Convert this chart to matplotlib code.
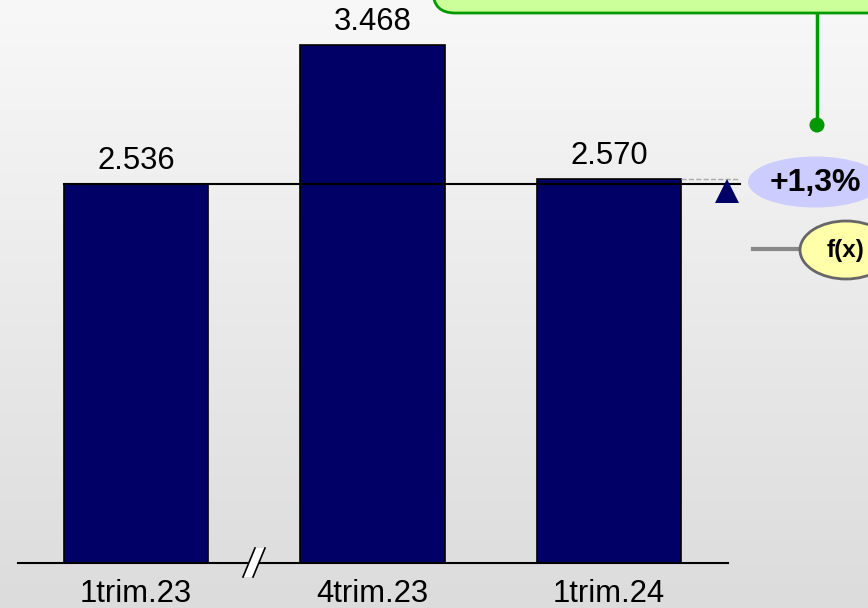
import numpy as np
import matplotlib
matplotlib.use('Agg')
import matplotlib.pyplot as plt
from matplotlib.patches import Ellipse, FancyBboxPatch, Polygon

plt.rcParams['font.family'] = ['Liberation Sans', 'DejaVu Sans']

# data
periods = ['1trim.23', '4trim.23', '1trim.24']
values = [2536, 3468, 2570]
value_labels = ['2.536', '3.468', '2.570']
change_label = '+1,3%'

W, H = 868, 608
fig = plt.figure(figsize=(W / 100, H / 100), dpi=100)

# background gradient
bg = fig.add_axes([0, 0, 1, 1])
grad = np.linspace(248, 220, 256)[:, None] / 255.0
bg.imshow(np.dstack([grad, grad, grad]), aspect='auto', extent=[0, 1, 0, 1])
bg.set_axis_off()

# main data axes (bars)
ax = fig.add_axes([0, 0, 1, 1])
ax.patch.set_visible(False)
ax.set_xlim(-0.575, 3.095)
ax.set_ylim(-301, 3766)
ax.set_axis_off()
x = np.arange(len(values))
ax.bar(x, values, width=0.609, color='#000066', edgecolor='black', linewidth=1.2, zorder=2)
for xi, v, lab in zip(x, values, value_labels):
    ax.text(xi, v + 50, lab, ha='center', va='bottom', fontsize=22.3, color='black')
for xi, lab in zip(x, periods):
    ax.text(xi, -205, lab, ha='center', va='center', fontsize=22.3, color='black')

# reference lines
x_end = (740 - 136) / 236.5
ax.plot([-0.305, x_end], [values[0], values[0]], color='black', lw=1.5, zorder=3)
ax.plot([2.305, x_end - 0.01], [values[2], values[2]], color='#aaaaaa', lw=1, ls='--', zorder=3)
ax.plot([(727 - 136) / 236.5], [values[0] - 47], marker='^', markersize=17, color='#000066',
        linestyle='none', zorder=4, markeredgewidth=0)

# overlay in pixel coords for decorations
ov = fig.add_axes([0, 0, 1, 1])
ov.patch.set_visible(False)
ov.set_xlim(0, W)
ov.set_ylim(H, 0)
ov.set_axis_off()

# baseline with break mark
ov.plot([18, 728], [563, 563], color='black', lw=1.5, zorder=3)
ov.add_patch(Polygon([[243, 577], [255, 548], [265, 548], [253, 577]], closed=True,
                     facecolor='white', edgecolor='none', zorder=4))
ov.plot([243, 255], [577, 548], color='black', lw=1.2, zorder=5)
ov.plot([253, 265], [577, 548], color='black', lw=1.2, zorder=5)

# green callout
ov.add_patch(FancyBboxPatch((433, -80), 500, 93, boxstyle='round,pad=0,rounding_size=22',
                            facecolor='#ccff99', edgecolor='#009900', lw=2, zorder=3))
ov.plot([817, 817], [14, 125], color='#009900', lw=2.5, zorder=4)
ov.add_patch(Ellipse((817, 125), 15, 15, facecolor='#009900', edgecolor='none', zorder=5))

# change ellipse
ov.add_patch(Ellipse((815, 182), 134, 51, facecolor='#ccccff', edgecolor='none', zorder=3))
ov.text(815, 183, change_label, ha='center', va='center', fontsize=23, fontweight='bold', zorder=4)

# f(x) ellipse
ov.plot([753, 800], [249, 249], color='#888888', lw=3, zorder=3)
ov.add_patch(Ellipse((846, 250), 92, 58, facecolor='#ffffaa', edgecolor='#666666', lw=2, zorder=4))
ov.text(846, 251, 'f(x)', ha='center', va='center', fontsize=17.5, fontweight='bold', zorder=5)

fig.savefig('out.png', dpi=100)
